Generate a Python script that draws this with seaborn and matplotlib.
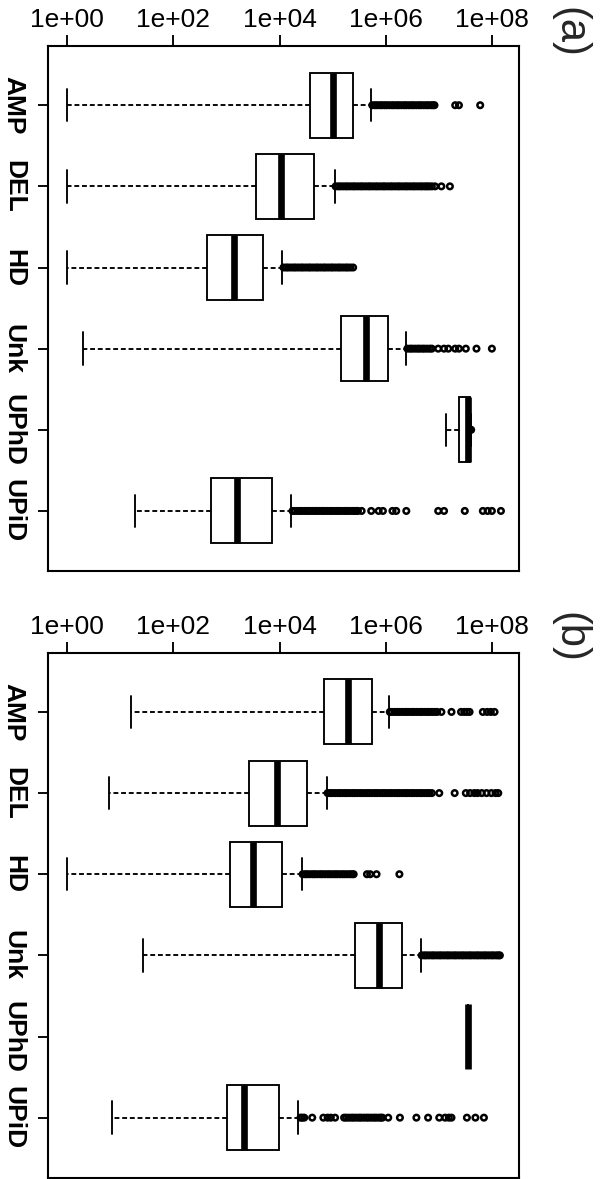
import numpy as np
import pandas as pd
import matplotlib
matplotlib.use("Agg")
import matplotlib.pyplot as plt
from matplotlib.ticker import NullLocator
import seaborn as sns

cats = ["AMP", "DEL", "HD", "Unk", "UPhD", "UPiD"]
xtick_exp = [0, 2, 4, 6, 8]
xtick_labels = ["1e+00", "1e+02", "1e+04", "1e+06", "1e+08"]

# five-number summaries, log10 units: lower whisker, Q1, median, Q3, upper whisker
a_low = [0.00, 0.00, 0.00, 0.29, 7.13, 1.27]
a_q1 = [4.57, 3.55, 2.63, 5.16, 7.37, 2.70]
a_med = [5.00, 4.02, 3.14, 5.63, 7.54, 3.20]
a_q3 = [5.37, 4.64, 3.68, 6.04, 7.58, 3.85]
a_high = [5.72, 5.03, 4.05, 6.38, 7.60, 4.22]

b_low = [1.20, 0.78, 0.00, 1.43, 7.54, 0.84]
b_q1 = [4.84, 3.43, 3.07, 5.41, 7.54, 3.00]
b_med = [5.29, 3.95, 3.49, 5.86, 7.54, 3.32]
b_q3 = [5.73, 4.52, 4.04, 6.29, 7.54, 3.98]
b_high = [6.05, 4.88, 4.41, 6.65, 7.54, 4.34]

a_out_amp = [5.74, 5.79, 5.83, 5.88, 5.92, 5.97, 6.01, 6.06, 6.11, 6.15, 6.20, 6.24,
             6.29, 6.34, 6.38, 6.43, 6.48, 6.52, 6.57, 6.62, 6.66, 6.71, 6.76, 6.80,
             6.85, 6.88, 6.91, 7.30, 7.37, 7.77]
a_out_del = [5.05, 5.10, 5.14, 5.19, 5.24, 5.28, 5.33, 5.38, 5.42, 5.47, 5.52, 5.56,
             5.61, 5.66, 5.70, 5.75, 5.80, 5.84, 5.89, 5.94, 5.98, 6.03, 6.08, 6.12,
             6.17, 6.22, 6.26, 6.31, 6.36, 6.40, 6.45, 6.50, 6.54, 6.59, 6.64, 6.68,
             6.73, 6.77, 6.81, 6.86, 6.92, 7.04, 7.20]
a_out_hd = [4.07, 4.12, 4.16, 4.21, 4.26, 4.30, 4.35, 4.40, 4.44, 4.49, 4.54, 4.58,
            4.63, 4.68, 4.72, 4.77, 4.82, 4.86, 4.91, 4.96, 5.00, 5.05, 5.10, 5.14,
            5.19, 5.24, 5.28, 5.33, 5.38]
a_out_unk = [6.40, 6.45, 6.49, 6.54, 6.59, 6.63, 6.68, 6.72, 6.77, 6.82, 6.86, 6.98,
             7.09, 7.17, 7.30, 7.37, 7.50, 7.70, 7.99]
a_out_uphd = [7.58, 7.60]
a_out_upid = [4.24, 4.28, 4.33, 4.38, 4.42, 4.47, 4.52, 4.56, 4.61, 4.66, 4.70, 4.75,
              4.80, 4.84, 4.89, 4.94, 4.98, 5.03, 5.08, 5.12, 5.17, 5.22, 5.26, 5.31,
              5.36, 5.40, 5.44, 5.47, 5.54, 5.72, 5.86, 5.94, 6.12, 6.19, 6.38, 6.98,
              7.09, 7.48, 7.82, 7.91, 7.99, 8.16]

b_out_amp = [6.07, 6.11, 6.16, 6.21, 6.25, 6.30, 6.35, 6.39, 6.44, 6.49, 6.53, 6.58,
             6.63, 6.67, 6.72, 6.77, 6.81, 6.86, 6.91, 6.96, 7.04, 7.23, 7.41, 7.47,
             7.52, 7.57, 7.82, 7.90, 7.97, 8.04]
b_out_del = [4.90, 4.95, 4.99, 5.04, 5.09, 5.13, 5.18, 5.23, 5.27, 5.32, 5.37, 5.41,
             5.46, 5.51, 5.55, 5.60, 5.65, 5.69, 5.74, 5.79, 5.83, 5.88, 5.93, 5.97,
             6.02, 6.07, 6.11, 6.16, 6.21, 6.25, 6.30, 6.35, 6.39, 6.44, 6.49, 6.53,
             6.58, 6.63, 6.67, 6.72, 6.77, 6.81, 6.86, 7.00, 7.29, 7.50, 7.58, 7.66,
             7.72, 7.80, 7.89, 7.98, 8.06, 8.11]
b_out_hd = [4.43, 4.48, 4.52, 4.57, 4.62, 4.66, 4.71, 4.76, 4.80, 4.85, 4.90, 4.94,
            4.99, 5.04, 5.08, 5.13, 5.18, 5.22, 5.27, 5.32, 5.36, 5.39, 5.64, 5.70,
            5.82, 6.25]
b_out_unk = [6.67, 6.72, 6.76, 6.81, 6.86, 6.90, 6.95, 7.00, 7.04, 7.09, 7.14, 7.18,
             7.23, 7.28, 7.32, 7.37, 7.42, 7.46, 7.51, 7.56, 7.60, 7.65, 7.70, 7.74,
             7.79, 7.84, 7.88, 7.93, 7.98, 8.02, 8.07, 8.11, 8.14]
b_out_uphd = []
b_out_upid = [4.39, 4.42, 4.46, 4.61, 4.82, 4.90, 4.96, 5.04, 5.21, 5.25, 5.30, 5.35,
              5.39, 5.44, 5.49, 5.53, 5.58, 5.63, 5.67, 5.72, 5.77, 5.81, 5.86, 5.90,
              5.93, 6.04, 6.26, 6.57, 6.79, 7.00, 7.11, 7.18, 7.23, 7.52, 7.68, 7.84]


def summary_frame(low, q1, med, q3, high):
    rows = []
    for c, *vals in zip(cats, low, q1, med, q3, high):
        rows += [(c, 10.0 ** v) for v in vals]
    return pd.DataFrame(rows, columns=["type", "size"])


def outlier_frame(lists):
    rows = [(c, 10.0 ** v) for c, vals in zip(cats, lists) for v in vals]
    return pd.DataFrame(rows, columns=["type", "size"])


sns.set_theme(style="ticks")
plt.rcParams["font.family"] = ["Liberation Sans", "DejaVu Sans"]

fig = plt.figure(figsize=(6, 11.79), dpi=100)
ax_a = fig.add_axes([0.08, 0.5157, 0.785, 0.4453])
ax_b = fig.add_axes([0.08, 0.0011, 0.785, 0.4453])

panels = [
    (ax_a, summary_frame(a_low, a_q1, a_med, a_q3, a_high),
     outlier_frame([a_out_amp, a_out_del, a_out_hd, a_out_unk, a_out_uphd, a_out_upid]),
     "(a)", 32),
    (ax_b, summary_frame(b_low, b_q1, b_med, b_q3, b_high),
     outlier_frame([b_out_amp, b_out_del, b_out_hd, b_out_unk, b_out_uphd, b_out_upid]),
     "(b)", 637),
]

lw = 1.35
for ax, box_df, out_df, tag, tag_y in panels:
    sns.boxplot(data=box_df, x="size", y="type", order=cats, whis=np.inf, width=0.8,
                color="white", linecolor="black", linewidth=lw, log_scale=True, ax=ax,
                boxprops=dict(linewidth=lw),
                medianprops=dict(linewidth=4.8, solid_capstyle="butt"),
                whiskerprops=dict(linewidth=lw, linestyle=(0, (2.6, 1.5))),
                capprops=dict(linewidth=lw))
    sns.stripplot(data=out_df, x="size", y="type", order=cats, jitter=False, size=4.0,
                  facecolor="none", edgecolor="black", linewidth=1.8,
                  log_scale=True, ax=ax)

    ax.set_xlim(10 ** -0.36, 10 ** 8.5)
    ax.set_ylim(5.74, -0.73)
    ax.set_xticks([10.0 ** e for e in xtick_exp])
    ax.set_xticklabels(xtick_labels, fontsize=19)
    ax.xaxis.set_minor_locator(NullLocator())
    ax.xaxis.tick_top()
    ax.set_yticks(range(len(cats)))
    ax.set_yticklabels(cats, rotation=-90, va="center", ha="right",
                       fontsize=19, fontweight="bold")
    ax.tick_params(axis="x", length=8, width=lw, pad=2, colors="black")
    ax.tick_params(axis="y", length=7, width=lw, pad=9, colors="black")
    ax.set_xlabel("")
    ax.set_ylabel("")
    for sp in ax.spines.values():
        sp.set_linewidth(1.5)
        sp.set_color("black")
    ax.grid(False)

    fig.text(569 / 600, 1 - tag_y / 1179, tag, rotation=-90, ha="center", va="center",
             fontsize=30)

fig.savefig("out.png", dpi=100)
